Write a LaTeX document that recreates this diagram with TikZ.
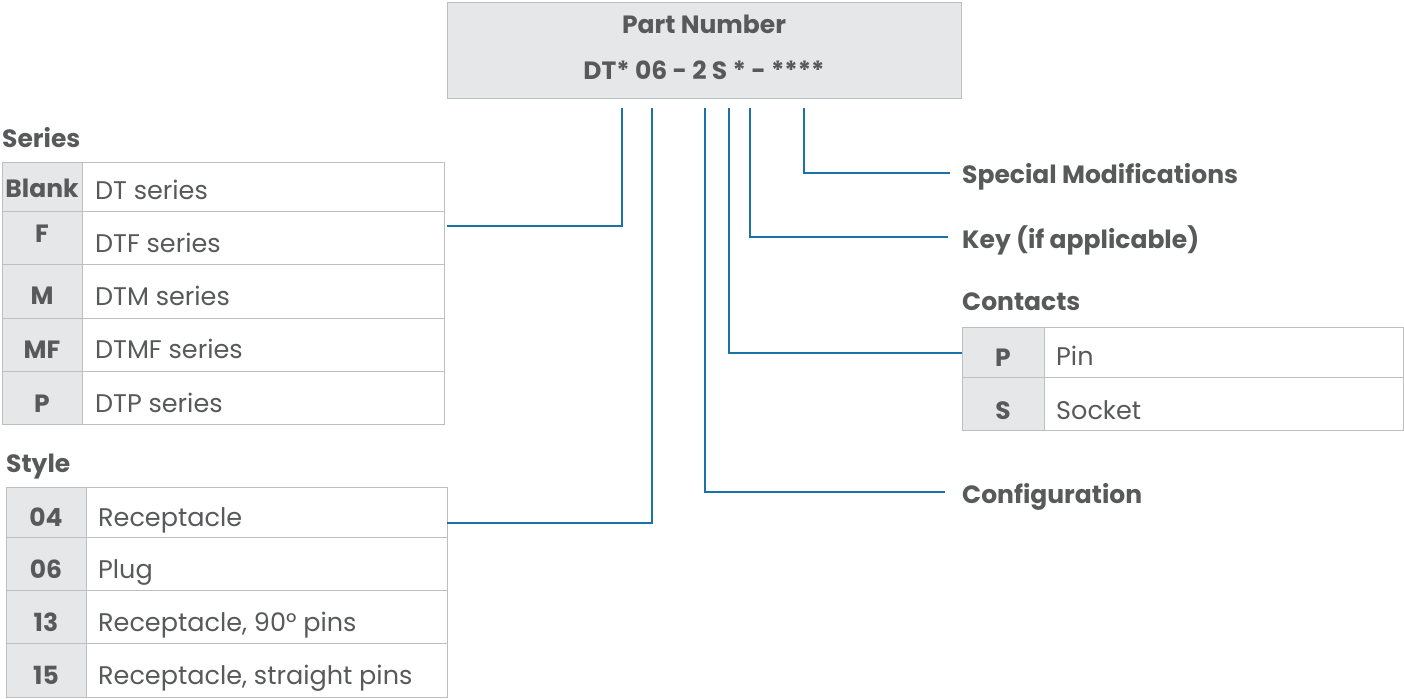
\documentclass[tikz,border=0pt]{standalone}
\usepackage{fontspec}
\setmainfont{Poppins}
\definecolor{txt}{HTML}{58595B}
\definecolor{keyfill}{HTML}{E6E7E9}
\definecolor{bord}{HTML}{BCBEC0}
\definecolor{lnc}{HTML}{1A72A8}
\tikzset{
  cellbox/.style={draw=bord, line width=1.2pt, anchor=north west, inner sep=0pt},
  keycell/.style={cellbox, fill=keyfill},
  desccell/.style={cellbox, fill=white},
  keytxt/.style={text=txt, font=\fontsize{25}{25}\selectfont\bfseries, text height=17.5pt, text depth=0pt, inner sep=0pt, anchor=center},
  desctxt/.style={text=txt, font=\fontsize{25.5}{25.5}\selectfont, text height=17.8pt, text depth=0pt, inner sep=0pt, anchor=west},
  headtxt/.style={text=txt, font=\fontsize{25}{25}\selectfont\bfseries, text height=17.5pt, text depth=0pt, inner sep=0pt, anchor=west},
  conn/.style={draw=lnc, line width=1.6pt}
}
\begin{document}
\begin{tikzpicture}[x=1pt,y=-1pt]
\useasboundingbox (0,0) rectangle (1404,698);
% Part number box
\node[keycell, minimum width=514pt, minimum height=96pt] (pn) at (447,2) {};
\node[keytxt] (pnt) at (704,24.5) {Part Number};
\node[keytxt] (pnc) at (704,70.5) {DT* 06 - 2 S * - ****};
% Series
\node[headtxt] (serh) at (2,138.5) {Series};
\node[keycell, minimum width=80pt, minimum height=49pt] (s1k) at (2,162) {};
\node[desccell, minimum width=362pt, minimum height=49pt] (s1d) at (82,162) {};
\node[keycell, minimum width=80pt, minimum height=53pt] (s2k) at (2,211) {};
\node[desccell, minimum width=362pt, minimum height=53pt] (s2d) at (82,211) {};
\node[keycell, minimum width=80pt, minimum height=54pt] (s3k) at (2,264) {};
\node[desccell, minimum width=362pt, minimum height=54pt] (s3d) at (82,264) {};
\node[keycell, minimum width=80pt, minimum height=53pt] (s4k) at (2,318) {};
\node[desccell, minimum width=362pt, minimum height=53pt] (s4d) at (82,318) {};
\node[keycell, minimum width=80pt, minimum height=53pt] (s5k) at (2,371) {};
\node[desccell, minimum width=362pt, minimum height=53pt] (s5d) at (82,371) {};
\node[keytxt] at (42,189) {Blank};
\node[desctxt] at (95,191) {DT series};
\node[keytxt] at (42,233.5) {F};
\node[desctxt] at (95,243.5) {DTF series};
\node[keytxt] at (42,296) {M};
\node[desctxt] at (95,297) {DTM series};
\node[keytxt] at (42,350) {MF};
\node[desctxt] at (95,350) {DTMF series};
\node[keytxt] at (42,403.5) {P};
\node[desctxt] at (95,403.5) {DTP series};
% Style
\node[headtxt] (styh) at (6,463.5) {Style};
\node[keycell, minimum width=80pt, minimum height=50pt] (t1k) at (6,487) {};
\node[desccell, minimum width=361pt, minimum height=50pt] (t1d) at (86,487) {};
\node[keycell, minimum width=80pt, minimum height=53pt] (t2k) at (6,537) {};
\node[desccell, minimum width=361pt, minimum height=53pt] (t2d) at (86,537) {};
\node[keycell, minimum width=80pt, minimum height=53pt] (t3k) at (6,590) {};
\node[desccell, minimum width=361pt, minimum height=53pt] (t3d) at (86,590) {};
\node[keycell, minimum width=80pt, minimum height=54pt] (t4k) at (6,643) {};
\node[desccell, minimum width=361pt, minimum height=54pt] (t4d) at (86,643) {};
\node[keytxt] at (46,517.5) {04};
\node[desctxt] at (98,517.5) {Receptacle};
\node[keytxt] at (46,570) {06};
\node[desctxt] at (98,570) {Plug};
\node[keytxt] at (46,623) {13};
\node[desctxt] at (98,623) {Receptacle, 90° pins};
\node[keytxt] at (46,676) {15};
\node[desctxt] at (98,676) {Receptacle, straight pins};
% Contacts
\node[headtxt] (conh) at (962,302) {Contacts};
\node[keycell, minimum width=82pt, minimum height=50pt] (c1k) at (962,327) {};
\node[desccell, minimum width=359pt, minimum height=50pt] (c1d) at (1044,327) {};
\node[keycell, minimum width=82pt, minimum height=53pt] (c2k) at (962,377) {};
\node[desccell, minimum width=359pt, minimum height=53pt] (c2d) at (1044,377) {};
\node[keytxt] at (1003,358) {P};
\node[desctxt] at (1056,357) {Pin};
\node[keytxt] at (1003,410.5) {S};
\node[desctxt] at (1056,410.5) {Socket};
% Right labels
\node[headtxt] (spm) at (962,175) {Special Modifications};
\node[headtxt] (key) at (962,240) {Key (if applicable)};
\node[headtxt] (cfg) at (962,495) {Configuration};
% connector coordinates
\coordinate (a1) at (622,108); \coordinate (a2) at (447,226);
\coordinate (b1) at (652,108); \coordinate (b2) at (447,523);
\coordinate (c1) at (705,108); \coordinate (c2) at (945,492);
\coordinate (d1) at (729,108);
\coordinate (e1) at (750,108); \coordinate (e2) at (948,237);
\coordinate (f1) at (804,108); \coordinate (f2) at (950,173);
\draw[conn] (a1) |- (a2);
\draw[conn] (b1) |- (b2);
\draw[conn] (c1) |- (c2);
\draw[conn] (d1) |- (c1k.west |- 0,353);
\draw[conn] (e1) |- (e2);
\draw[conn] (f1) |- (f2);
\end{tikzpicture}
\end{document}
